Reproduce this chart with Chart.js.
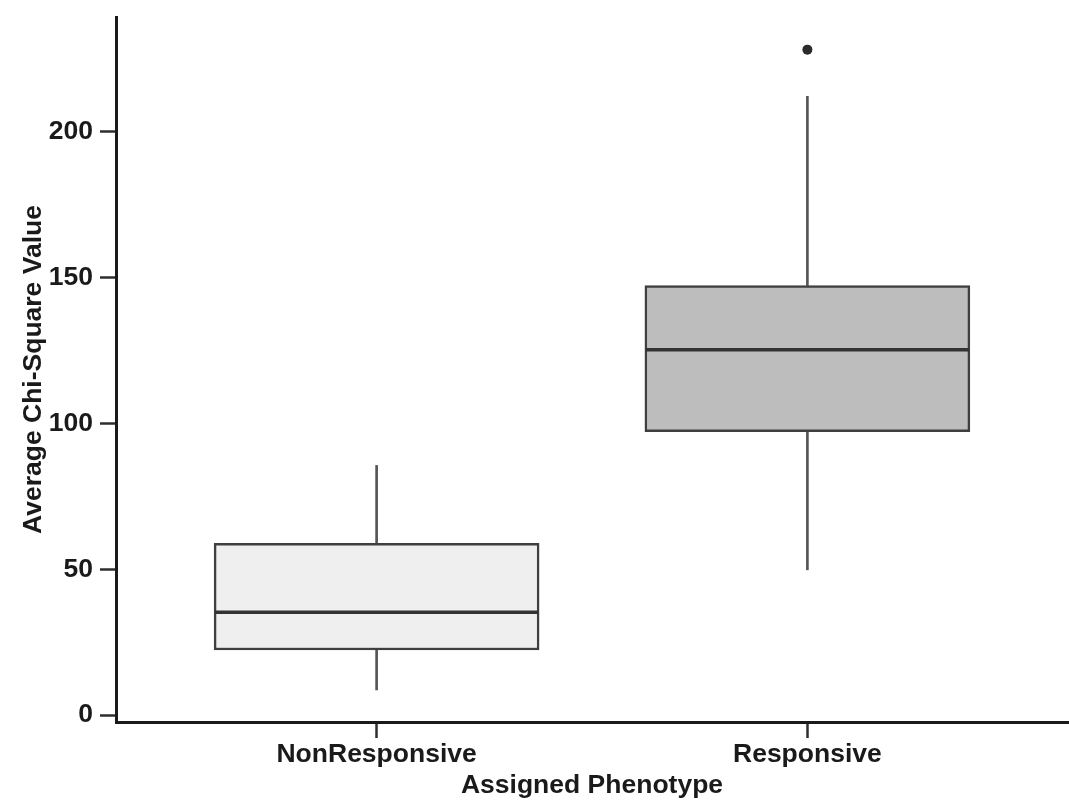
<!DOCTYPE html>
<html>
<head>
<meta charset="utf-8">
<title>Average Chi-Square Value by Assigned Phenotype</title>
<script src="https://cdn.jsdelivr.net/npm/chart.js@4/dist/chart.umd.min.js"></script>
<style>
  html, body { margin: 0; padding: 0; background: #ffffff; }
  #wrap { width: 1069px; height: 806px; }
</style>
</head>
<body>
<div id="wrap"><canvas id="chart" width="1069" height="806"></canvas></div>
<script>
// Box plot summaries per phenotype group
const categories = ['NonResponsive', 'Responsive'];
const whiskerLow = [8.6, 49.8];
const quartile1 = [22.3, 97.2];
const medians = [35.2, 125.3];
const quartile3 = [58.9, 147.3];
const whiskerHigh = [85.6, 212.2];
const outliers = [[], [228.2]];
const yTickValues = [0, 50, 100, 150, 200];

const boxFills = ['#efefef', '#bdbdbd'];
const FONT = { family: '"Liberation Sans", Arial, sans-serif', size: 26.5, weight: 'bold' };
const TEXT = '#1a1a1a';

const pos = categories.map((_, i) => i + 1);

// Draws the median line across each box
const medianPlugin = {
  id: 'medianLines',
  afterDatasetsDraw(chart) {
    const meta = chart.getDatasetMeta(2);
    const y = chart.scales.y;
    const ctx = chart.ctx;
    ctx.save();
    ctx.strokeStyle = '#333333';
    ctx.lineWidth = 3.5;
    meta.data.forEach((el, i) => {
      const p = el.getProps(['x', 'width'], true);
      const py = y.getPixelForValue(medians[i]);
      ctx.beginPath();
      ctx.moveTo(p.x - p.width / 2 + 1, py);
      ctx.lineTo(p.x + p.width / 2 - 1, py);
      ctx.stroke();
    });
    ctx.restore();
  }
};

const outlierPoints = [];
outliers.forEach((list, i) => list.forEach(v => outlierPoints.push({ x: pos[i], y: v })));

new Chart(document.getElementById('chart'), {
  type: 'bar',
  data: {
    datasets: [
      {
        label: 'upper whisker',
        data: pos.map((x, i) => ({ x, y: [quartile3[i], whiskerHigh[i]] })),
        backgroundColor: '#555555',
        barThickness: 2,
        grouped: false,
        order: 3
      },
      {
        label: 'lower whisker',
        data: pos.map((x, i) => ({ x, y: [whiskerLow[i], quartile1[i]] })),
        backgroundColor: '#555555',
        barThickness: 2,
        grouped: false,
        order: 3
      },
      {
        label: 'interquartile range',
        data: pos.map((x, i) => ({ x, y: [quartile1[i], quartile3[i]] })),
        backgroundColor: boxFills,
        borderColor: '#3f3f3f',
        borderWidth: 2.5,
        borderSkipped: false,
        barThickness: 325,
        grouped: false,
        order: 2
      },
      {
        type: 'line',
        label: 'outliers',
        data: outlierPoints,
        showLine: false,
        pointRadius: 5,
        pointBackgroundColor: '#2b2b2b',
        pointBorderColor: '#2b2b2b',
        pointBorderWidth: 0,
        order: 1
      }
    ]
  },
  options: {
    responsive: false,
    animation: false,
    layout: { autoPadding: false, padding: { top: 17, right: 1, left: 0, bottom: 0 } },
    plugins: {
      legend: { display: false },
      tooltip: { enabled: false }
    },
    scales: {
      x: {
        type: 'linear',
        min: 0.395,
        max: 2.605,
        offset: false,
        afterBuildTicks(scale) { scale.ticks = pos.map(v => ({ value: v })); },
        afterFit(scale) {
          scale.height = 84;
          scale.paddingLeft = 0;
          scale.paddingRight = 0;
        },
        ticks: {
          callback: v => categories[v - 1],
          font: FONT,
          color: TEXT,
          padding: 1,
          maxRotation: 0,
          autoSkip: false
        },
        grid: {
          display: true,
          offset: false,
          drawOnChartArea: false,
          drawTicks: true,
          tickLength: 16,
          tickColor: '#2e2e2e',
          tickWidth: 2.5
        },
        border: { display: true, color: '#1a1a1a', width: 3 },
        title: {
          display: true,
          text: 'Assigned Phenotype',
          font: FONT,
          color: TEXT,
          padding: { top: 0, bottom: 4 }
        }
      },
      y: {
        type: 'linear',
        min: -2.4,
        max: 239.4,
        afterBuildTicks(scale) { scale.ticks = yTickValues.map(v => ({ value: v })); },
        afterFit(scale) {
          scale.width = 116;
          scale.paddingTop = 0;
          scale.paddingBottom = 0;
        },
        ticks: {
          font: FONT,
          color: TEXT,
          padding: 7
        },
        grid: {
          display: true,
          drawOnChartArea: false,
          drawTicks: true,
          tickLength: 16,
          tickColor: '#2e2e2e',
          tickWidth: 2.5
        },
        border: { display: true, color: '#1a1a1a', width: 3 },
        title: {
          display: true,
          text: 'Average Chi-Square Value',
          font: FONT,
          color: TEXT,
          padding: { top: 18, bottom: 0 }
        }
      }
    }
  },
  plugins: [medianPlugin]
});
</script>
</body>
</html>
